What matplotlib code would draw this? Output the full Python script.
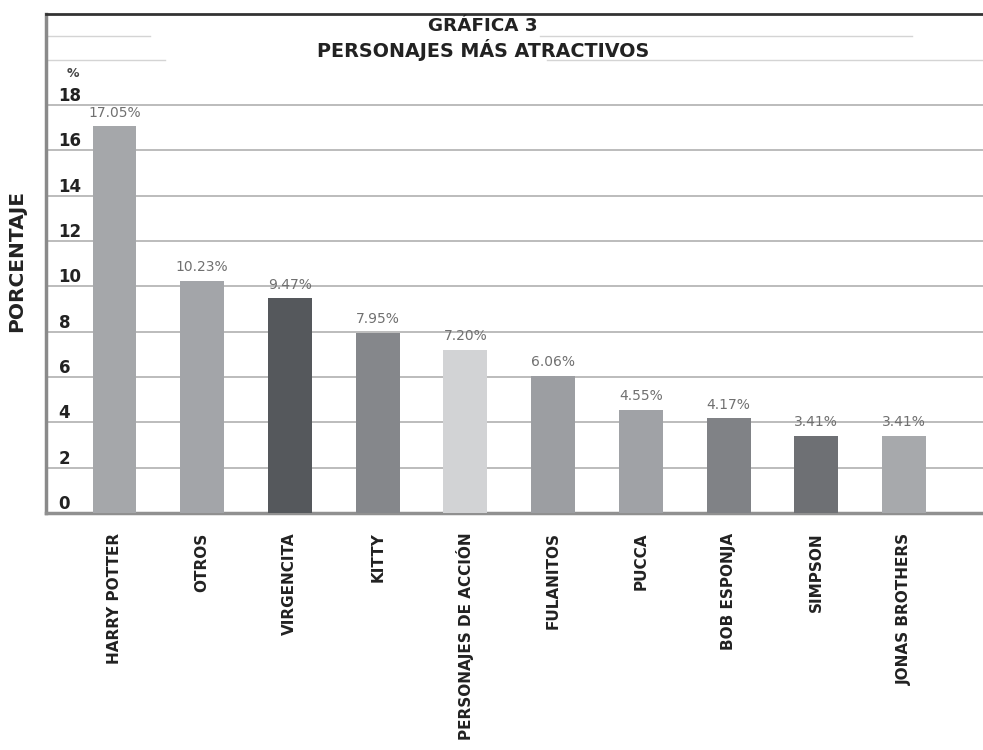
import matplotlib.pyplot as plt

personajes = ["HARRY POTTER", "OTROS", "VIRGENCITA", "KITTY", "PERSONAJES DE ACCIÓN",
              "FULANITOS", "PUCCA", "BOB ESPONJA", "SIMPSON", "JONAS BROTHERS"]
porcentajes = [17.05, 10.23, 9.47, 7.95, 7.20, 6.06, 4.55, 4.17, 3.41, 3.41]
colores = ["#a5a7aa", "#a3a5a9", "#55585c", "#85878b", "#d2d3d5",
           "#9c9ea2", "#a0a2a6", "#808286", "#6e7074", "#a7a9ac"]
yticks = [0, 2, 4, 6, 8, 10, 12, 14, 16, 18]

fig = plt.figure(figsize=(9.83, 7.5), dpi=100, facecolor="white")
ax = fig.add_axes([0.0468, 0.316, 0.9532, 0.665])

x = range(len(personajes))
ax.bar(x, porcentajes, width=0.5, color=colores, zorder=3)

for xi, v in zip(x, porcentajes):
    ax.text(xi, v + 0.3, f"{v:.2f}%", ha="center", va="bottom",
            fontsize=10, color="#707070", zorder=4)

ax.set_xlim(-0.78, 9.9)
ax.set_ylim(0, 22)

# grid
for t in yticks[1:]:
    ax.axhline(t, color="#b0b0b0", lw=1.2, zorder=1)
# faint lines partly hidden behind the title
for y0, segs in [(20.0, [(0.0, 0.127), (0.535, 1.0)]),
                 (21.05, [(0.0, 0.111), (0.527, 0.924)])]:
    for a, b in segs:
        ax.axhline(y0, xmin=a, xmax=b, color="#d4d4d4", lw=1, zorder=1)

ax.set_xticks(list(x))
ax.set_xticklabels(personajes, rotation=90, fontsize=11, fontweight="bold",
                   va="top", color="#222222")
ax.set_yticks(yticks)
ax.set_yticklabels([str(t) for t in yticks], fontsize=12, fontweight="bold",
                   va="bottom", color="#222222")
ax.tick_params(axis="x", length=0, pad=14)
ax.tick_params(axis="y", length=0, pad=-9)
for lab in ax.get_yticklabels():
    lab.set_horizontalalignment("left")

ax.text(0.022, 19.4, "%", transform=ax.get_yaxis_transform(), fontsize=9,
        fontweight="bold", color="#444444", ha="left", va="center")

ax.set_ylabel("PORCENTAJE", fontsize=14.5, fontweight="bold", color="#222222")
ax.yaxis.set_label_coords(-0.021, 0.505)

ax.spines["right"].set_visible(False)
ax.spines["top"].set_color("#333333")
ax.spines["top"].set_linewidth(2)
ax.spines["left"].set_color("#8a8a8a")
ax.spines["left"].set_linewidth(2.5)
ax.spines["bottom"].set_color("#909090")
ax.spines["bottom"].set_linewidth(2.5)

tr = ax.get_yaxis_transform()
ax.text(0.466, 21.5, "GRÁFICA 3", transform=tr, ha="center", va="center",
        fontsize=13.2, fontweight="bold", color="#222222", zorder=5)
ax.text(0.466, 20.42, "PERSONAJES MÁS ATRACTIVOS", transform=tr, ha="center",
        va="center", fontsize=13.8, fontweight="bold", color="#222222", zorder=5)

fig.savefig("out.png", dpi=100)
